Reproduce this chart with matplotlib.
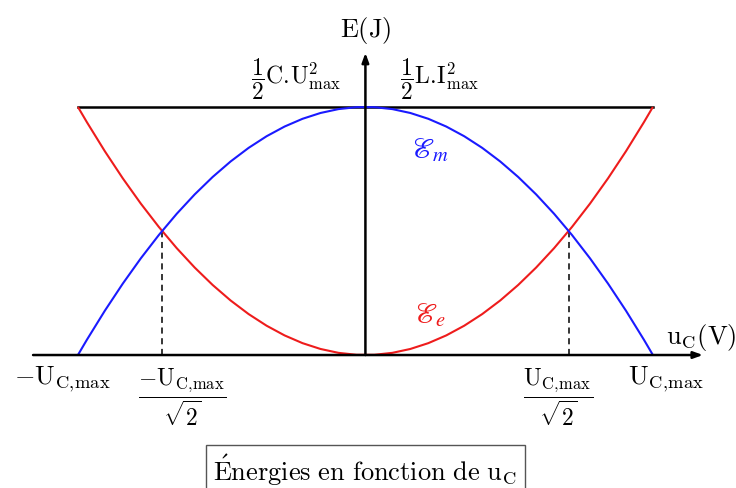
import numpy as np
import matplotlib.pyplot as plt
from matplotlib.path import Path
from matplotlib.patches import PathPatch

plt.rcParams['mathtext.fontset'] = 'cm'
plt.rcParams['font.family'] = ['cmr10', 'DejaVu Serif']

# normalised values: U_C,max = 1, E_max = 1
u_max = 1.0
E_max = 1.0
# parabolas as quadratic Bezier (start, control, end)
u_pts = [-u_max, 0.0, u_max]
Ee_pts = [E_max, -E_max, E_max]     # electric energy, 1/2 C u^2
Em_pts = [0.0, 2 * E_max, 0.0]      # magnetic energy, E_max - E_e
u_cross = [-u_max / np.sqrt(2), u_max / np.sqrt(2)]
E_cross = E_max / 2

red = '#ee1c1c'
blue = '#1a1aff'

fig = plt.figure(figsize=(7.36, 4.88), dpi=100)
ax = fig.add_axes([0, 0, 1, 1])
ax.set_xlim(-1.271, 1.289)
ax.set_ylim(-0.536, 1.431)
ax.axis('off')

codes = [Path.MOVETO, Path.CURVE3, Path.CURVE3]
ax.add_patch(PathPatch(Path(list(zip(u_pts, Ee_pts)), codes), fc='none', ec=red, lw=1.5, zorder=3))
ax.add_patch(PathPatch(Path(list(zip(u_pts, Em_pts)), codes), fc='none', ec=blue, lw=1.5, zorder=3))

# total energy line
ax.plot([-u_max, u_max], [E_max, E_max], color='black', lw=1.8, zorder=2)

# dashed drops at the crossings
for uc in u_cross:
    ax.plot([uc, uc], [0, E_cross], color='black', lw=1.1, ls=(0, (4, 3)), zorder=2)

# axes with arrows
arr = dict(arrowstyle='-|>,head_length=0.55,head_width=0.2', color='black', lw=1.8, shrinkA=0, shrinkB=0)
ax.annotate('', xy=(1.174, 0), xytext=(-1.156, 0), arrowprops=arr, zorder=4)
ax.annotate('', xy=(0, 1.218), xytext=(0, 0), arrowprops=arr, zorder=4)

fs = 19
ucmax = r'\mathrm{U}_{\mathrm{C},\!\mathrm{max}}'
ax.text(0, 1.31, r'$\mathrm{E(J)}$', fontsize=fs, ha='center', va='center')
ax.text(-0.24, 1.11, r'$\dfrac{1}{2}\mathrm{C}.\!\mathrm{U}^2_{\mathrm{max}}$', fontsize=fs - 2, ha='center', va='center')
ax.text(0.256, 1.11, r'$\dfrac{1}{2}\mathrm{L}.\!\mathrm{I}^2_{\mathrm{max}}$', fontsize=fs - 2, ha='center', va='center')
ax.text(0.224, 0.827, r'$\mathscr{E}_m$', fontsize=fs + 2, ha='center', va='center', color=blue,
        math_fontfamily='stix')
ax.text(0.224, 0.16, r'$\mathscr{E}_e$', fontsize=fs + 2, ha='center', va='center', color=red,
        math_fontfamily='stix')
ax.text(1.167, 0.07, r'$\mathrm{u_C(V)}$', fontsize=fs, ha='center', va='center')

ax.text(-1.056, -0.10, '$-' + ucmax + '$', fontsize=fs, ha='center', va='center')
ax.text(1.045, -0.10, '$' + ucmax + '$', fontsize=fs, ha='center', va='center')
ax.text(-0.638, -0.17, r'$\dfrac{-' + ucmax + r'}{\sqrt{2}}$', fontsize=fs - 2, ha='center', va='center')
ax.text(0.67, -0.17, r'$\dfrac{' + ucmax + r'}{\sqrt{2}}$', fontsize=fs - 2, ha='center', va='center')

ax.text(0, -0.464, r'$\mathrm{\acute{E}nergies\ en\ fonction\ de\ u_C}$', fontsize=fs, ha='center', va='center',
        bbox=dict(boxstyle='square,pad=0.3', fc='white', ec='#555555', lw=1.0))

fig.savefig('out.png', dpi=100)
